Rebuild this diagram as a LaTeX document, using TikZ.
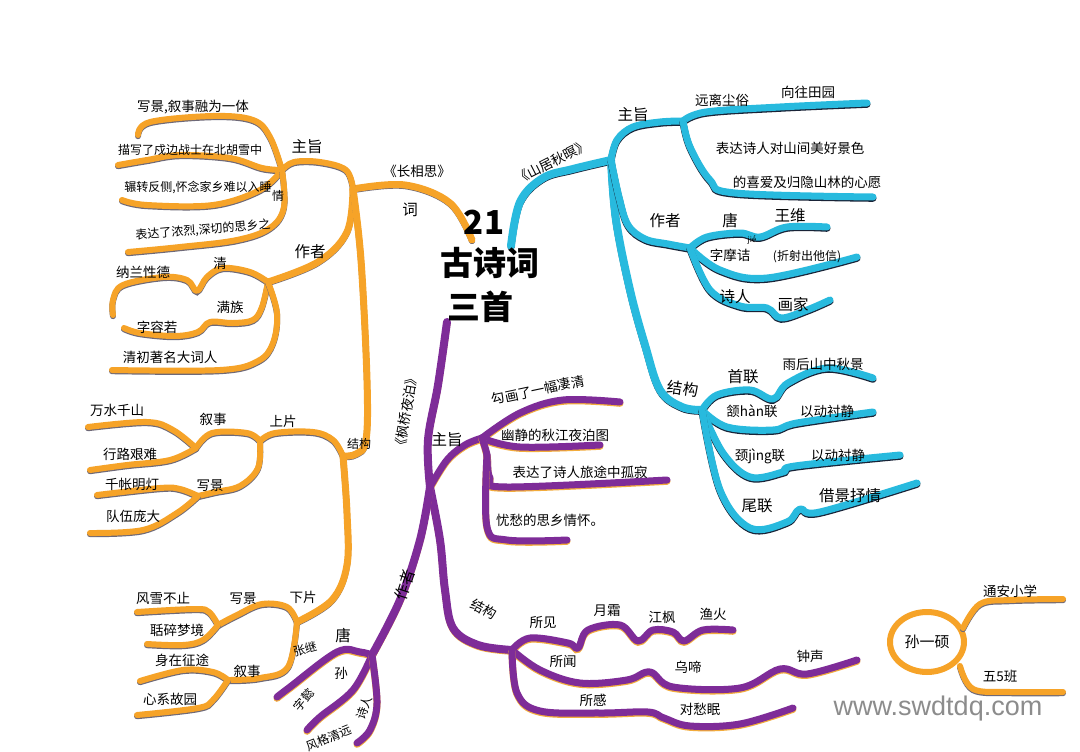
\documentclass[tikz,border=0pt]{standalone}
\usepackage{fontspec}
\setmainfont{Noto Sans CJK SC}
\newfontfamily\wmfont{Liberation Sans}
\usetikzlibrary{shapes.geometric}
\definecolor{orC}{RGB}{246,163,40}
\definecolor{orE}{RGB}{110,105,120}
\definecolor{blC}{RGB}{40,186,222}
\definecolor{blE}{RGB}{25,35,55}
\definecolor{puC}{RGB}{126,44,152}
\definecolor{puE}{RGB}{242,172,60}
\begin{document}
\begin{tikzpicture}[x=1pt,y=-1pt,
  obr/.style={draw=orC, line width=6pt, line cap=round, line join=round,
    preaction={draw=orE, line width=6pt, line cap=round, transform canvas={yshift=-1.2pt}}},
  omain/.style={obr, line width=7pt},
  bbr/.style={draw=blC, line width=7pt, line cap=round, line join=round,
    preaction={draw=blE, line width=7pt, line cap=round, transform canvas={yshift=-1.3pt}}},
  bmain/.style={bbr, line width=8pt},
  pbr/.style={draw=puC, line width=7pt, line cap=round, line join=round,
    preaction={draw=puE, line width=7pt, line cap=round, transform canvas={yshift=-1.3pt}}},
  pmain/.style={pbr, line width=8pt},
  sm/.style={smooth, tension=0.6},
  txt/.style={font=\fontsize{13.5}{15}\selectfont, inner sep=0pt, text=black},
  txs/.style={font=\fontsize{12}{14}\selectfont, inner sep=0pt, text=black},
  txl/.style={font=\fontsize{15.5}{17}\selectfont, inner sep=0pt, text=black},
  ttl/.style={font=\fontsize{33}{36}\selectfont\bfseries, inner sep=0pt, text=black},
]
\useasboundingbox (0,0) rectangle (1080,752);
\fill[white] (0,0) rectangle (1080,752);

% ================= ORANGE =================
\coordinate (oc) at (472,240);
\coordinate (oh) at (353,189);
\coordinate (ozh) at (282,170);
\coordinate (ozz) at (268,282);
\coordinate (ojg) at (343,456);
\coordinate (osp) at (260,441);
\coordinate (oxp) at (297,622);
\coordinate (oxs1) at (196,448);
\coordinate (oxj1) at (198,496);
\coordinate (oxj2) at (218,625);
\coordinate (oxs2) at (228,680);
\coordinate (o1) at (138,135);
\coordinate (o2) at (118,165);
\coordinate (o3) at (122,200);
\coordinate (o4) at (128,252);
\coordinate (o5) at (113,315);
\coordinate (o6) at (124,328);
\coordinate (o7) at (112,370);
\coordinate (o9) at (88,427);
\coordinate (o10) at (90,470);
\coordinate (o12) at (97,495);
\coordinate (o13) at (90,533);
\coordinate (o15) at (137,612);
\coordinate (o16) at (147,644);
\coordinate (o18) at (140,681);
\coordinate (o19) at (137,715);

\draw[omain] plot[sm] coordinates {(oc) (450,203) (405,185) (oh)};
\draw[obr] plot[sm] coordinates {(oh) (346,170) (320,162) (294,162) (ozh)};
\draw[obr] plot[sm] coordinates {(ozh) (270,137) (253,120) (213,116) (150,122) (o1)};
\draw[obr] plot[sm] coordinates {(ozh) (262,168) (230,158) (180,155) (147,160) (o2)};
\draw[obr] plot[sm] coordinates {(ozh) (260,190) (213,205) (147,205) (o3)};
\draw[obr] plot[sm] coordinates {(ozh) (284,207) (270,228) (237,240) (180,247) (o4)};
\draw[omain] plot[sm] coordinates {(oh) (347,232) (318,262) (ozz)};
\draw[obr] plot[sm] coordinates {(ozz) (250,272) (223,268) (207,277) (197,291) (187,280) (163,277) (123,285) (113,300) (o5)};
\draw[obr] plot[sm] coordinates {(ozz) (262,307) (253,320) (233,323) (210,322) (198,332) (175,336) (140,333) (o6)};
\draw[obr] plot[sm] coordinates {(ozz) (277,313) (273,343) (258,361) (220,370) (o7)};
\draw[omain] plot[sm] coordinates {(oh) (361,260) (367,380) (366,440) (356,454) (ojg)};
\draw[obr] plot[sm] coordinates {(ojg) (333,440) (313,432) (275,433) (osp)};
\draw[omain] plot[sm] coordinates {(ojg) (347,513) (347,565) (332,600) (oxp)};
\draw[obr] plot[sm] coordinates {(osp) (247,433) (212,433) (oxs1)};
\draw[obr] plot[sm] coordinates {(oxs1) (173,430) (147,422) (o9)};
\draw[obr] plot[sm] coordinates {(oxs1) (170,460) (127,465) (o10)};
\draw[obr] plot[sm] coordinates {(osp) (258,468) (240,486) (215,492) (oxj1)};
\draw[obr] plot[sm] coordinates {(oxj1) (180,489) (160,488) (o12)};
\draw[obr] plot[sm] coordinates {(oxj1) (177,513) (143,530) (o13)};
\draw[obr] plot[sm] coordinates {(oxp) (287,607) (262,604) (237,615) (oxj2)};
\draw[obr] plot[sm] coordinates {(oxj2) (209,612) (195,609) (o15)};
\draw[obr] plot[sm] coordinates {(oxj2) (203,640) (183,645) (o16)};
\draw[obr] plot[sm] coordinates {(oxp) (288,667) (260,678) (oxs2)};
\draw[obr] plot[sm] coordinates {(oxs2) (213,672) (183,670) (o18)};
\draw[obr] plot[sm] coordinates {(oxs2) (213,700) (198,708) (o19)};

% ================= BLUE =================
\coordinate (bc) at (511,246);
\coordinate (bh) at (611,160);
\coordinate (bzh) at (683,121);
\coordinate (bzz) at (690,248);
\coordinate (bjg) at (702,410);
\coordinate (b1) at (867,103);
\coordinate (b2) at (873,197);
\coordinate (b3) at (827,227);
\coordinate (b4) at (857,257);
\coordinate (b5) at (830,300);
\coordinate (b6) at (873,378);
\coordinate (b7) at (873,412);
\coordinate (b8) at (900,455);
\coordinate (b9) at (917,483);

\draw[bmain] plot[sm] coordinates {(bc) (520,202) (543,178) (573,169) (bh)};
\draw[bbr] plot[sm] coordinates {(bh) (617,140) (633,127) (660,122) (bzh)};
\draw[bbr] plot[sm] coordinates {(bzh) (706,112) (780,107) (b1)};
\draw[bbr] plot[sm] coordinates {(bzh) (690,147) (710,180) (735,193) (b2)};
\draw[bmain] plot[sm] coordinates {(bh) (616,220) (630,290) (645,345) (660,390) (682,407) (bjg)};
\draw[bbr] plot[sm] coordinates {(bh) (619,197) (628,225) (645,239) (668,244) (bzz)};
\draw[bbr] plot[sm] coordinates {(bzz) (707,237) (740,233) (760,237) (787,227) (b3)};
\draw[bbr] plot[sm] coordinates {(bzz) (720,270) (767,278) (b4)};
\draw[bbr] plot[sm] coordinates {(bzz) (710,290) (740,306) (767,308) (781,318) (807,310) (b5)};
\draw[bbr] plot[sm] coordinates {(bjg) (717,395) (750,390) (773,399) (788,383) (827,368) (b6)};
\draw[bbr] plot[sm] coordinates {(bjg) (727,427) (773,430) (797,423) (b7)};
\draw[bbr] plot[sm] coordinates {(bjg) (723,453) (750,477) (783,472) (795,466) (b8)};
\draw[bbr] plot[sm] coordinates {(bjg) (720,490) (750,528) (787,522) (800,509) (820,512) (b9)};

% ================= PURPLE =================
\coordinate (pc) at (447,322);
\coordinate (ph) at (430,487);
\coordinate (pzh) at (482,438);
\coordinate (pjg) at (512,650);
\coordinate (pzz) at (372,655);
\coordinate (p1) at (620,402);
\coordinate (p2) at (600,445);
\coordinate (pv) at (487,455);
\coordinate (p3) at (667,480);
\coordinate (p4) at (567,540);
\coordinate (p5) at (733,630);
\coordinate (p6) at (857,660);
\coordinate (p7) at (793,708);
\coordinate (p8) at (277,697);
\coordinate (p9) at (307,730);
\coordinate (p10) at (357,743);

\draw[pmain] plot[sm] coordinates {(pc) (438,385) (428,440) (ph)};
\draw[pbr] plot[sm] coordinates {(ph) (447,460) (465,445) (pzh)};
\draw[pbr] plot[sm] coordinates {(pzh) (520,413) (563,400) (p1)};
\draw[pbr] plot[sm] coordinates {(pzh) (520,447) (p2)};
\draw[pbr] plot[sm] coordinates {(pzh) (pv) (490,478) (507,487) (p3)};
\draw[pbr] plot[sm] coordinates {(pv) (487,527) (507,540) (p4)};
\draw[pmain] plot[sm] coordinates {(ph) (440,540) (445,590) (453,628) (478,645) (pjg)};
\draw[pbr] plot[sm] coordinates {(pjg) (530,638) (568,643) (578,648) (588,630) (620,625) (638,641) (653,630) (673,632) (684,641) (703,630) (p5)};
\draw[pbr] plot[sm] coordinates {(pjg) (540,670) (580,683) (627,680) (650,672) (673,687) (740,688) (780,669) (807,674) (p6)};
\draw[pbr] plot[sm] coordinates {(pjg) (517,693) (540,711) (600,713) (648,712) (664,718) (690,726) (740,724) (p7)};
\draw[pmain] plot[sm] coordinates {(ph) (420,540) (400,600) (pzz)};
\draw[pbr] plot[sm] coordinates {(pzz) (360,652) (337,652) (290,687) (p8)};
\draw[pbr] plot[sm] coordinates {(pzz) (353,690) (320,717) (p9)};
\draw[pbr] plot[sm] coordinates {(pzz) (377,703) (370,730) (p10)};

% ================= NAME =================
\node[ellipse, draw=orC, line width=6pt, minimum width=74pt, minimum height=60pt, inner sep=0pt, font=\fontsize{15}{17}\selectfont] (nm) at (927,642) {孙一硕};
\coordinate (nA) at (963,628);
\coordinate (nB) at (960,666);
\coordinate (n1) at (1063,599);
\coordinate (n2) at (1063,692);
\draw[obr] plot[sm] coordinates {(nA) (980,604) (1010,600) (n1)};
\draw[obr] plot[sm] coordinates {(nB) (973,689) (1010,692) (n2)};

% ================= TITLE =================
\node[ttl] (t21) at (484,222) {21};
\node[ttl] (tgs) at (490,263) {古诗词};
\node[ttl] (tss) at (480,307) {三首};

% ================= ORANGE TEXT =================
\node[txt] (tcx) at (417,171) {《长相思》};
\node[txl] (tci) at (410,210) {词};
\node[txl] (tzz1) at (307,147) {主旨};
\node[txt] (ta1) at (193,107) {写景,叙事融为一体};
\node[txs] (ta2) at (190,150) {描写了戍边战士在北胡雪中};
\node[txs] (ta3) at (198,187) {辗转反侧,怀念家乡难以入睡};
\node[txs] (ta4q) at (278,196) {情};
\node[txs, rotate=5] (ta4) at (203,230) {表达了浓烈,深切的思乡之};
\node[txl] (tzr1) at (310,252) {作者};
\node[txt] (tq) at (220,263) {清};
\node[txt] (tnl) at (143,272) {纳兰性德};
\node[txt] (tmz) at (230,307) {满族};
\node[txt] (trr) at (157,327) {字容若};
\node[txt] (tqc) at (170,357) {清初著名大词人};
\node[txs] (tjg1) at (359,444) {结构};
\node[txt] (tsp) at (283,421) {上片};
\node[txt] (txs1) at (213,419) {叙事};
\node[txt] (tws) at (117,410) {万水千山};
\node[txt] (txl) at (130,454) {行路艰难};
\node[txt] (tqz) at (132,484) {千帐明灯};
\node[txt] (txj1) at (210,486) {写景};
\node[txt] (tdw) at (133,516) {队伍庞大};
\node[txt] (txp) at (303,597) {下片};
\node[txt] (txj2) at (243,599) {写景};
\node[txt] (tfx) at (163,598) {风雪不止};
\node[txt] (tgs2) at (177,630) {聒碎梦境};
\node[txt] (tsz) at (182,660) {身在征途};
\node[txt] (txs2) at (247,671) {叙事};
\node[txt] (txg) at (170,699) {心系故园};

% ================= BLUE TEXT =================
\node[txt, rotate=27] (tsj) at (552,162) {《山居秋暝》};
\node[txl] (tzz2) at (633,115) {主旨};
\node[txt] (tyl) at (722,100) {远离尘俗};
\node[txt] (txw) at (808,92) {向往田园};
\node[txt] (tbd) at (790,148) {表达诗人对山间美好景色};
\node[txt] (tdx) at (807,182) {的喜爱及归隐山林的心愿};
\node[txl] (tzr2) at (665,221) {作者};
\node[txl] (tt1) at (730,221) {唐};
\node[txl] (tww) at (790,216) {王维};
\node[txt] (tzm) at (730,255) {字摩诘};
\node[font=\fontsize{8}{9}\selectfont, inner sep=0pt] (tjie) at (752,240) {jié};
\node[txs] (tzs) at (807,257) {(折射出他信)};
\node[txl] (tsr1) at (735,297) {诗人};
\node[txl] (thj) at (793,305) {画家};
\node[txl, rotate=-8] (tjg2) at (683,389) {结构};
\node[txl] (tsl) at (743,377) {首联};
\node[txt] (tyh) at (823,364) {雨后山中秋景};
\node[txt] (thl) at (752,411) {颔hàn联};
\node[txt] (tyd1) at (827,411) {以动衬静};
\node[txt] (tjl) at (760,456) {颈jìng联};
\node[txt] (tyd2) at (838,455) {以动衬静};
\node[txl] (twl) at (757,506) {尾联};
\node[txl] (tjj) at (850,496) {借景抒情};

% ================= PURPLE TEXT =================
\node[txt, rotate=80] (tfq) at (406,412) {《枫桥夜泊》};
\node[txl] (tzz3) at (447,440) {主旨};
\node[txt, rotate=12] (tgh) at (538,390) {勾画了一幅凄清};
\node[txt] (tyj) at (555,435) {幽静的秋江夜泊图};
\node[txt] (tbl) at (580,472) {表达了诗人旅途中孤寂};
\node[txt] (tyc) at (550,520) {忧愁的思乡情怀。};
\node[txl, rotate=72] (tzr3) at (405,585) {作者};
\node[txl] (tt2) at (343,636) {唐};
\node[txs, rotate=15] (tzj) at (305,649) {张继};
\node[txt] (tsun) at (341,673) {孙};
\node[txs, rotate=50] (tzy) at (304,700) {字懿};
\node[txs, rotate=70] (tsr2) at (364,708) {诗人};
\node[txs, rotate=22] (tfg) at (329,738) {风格清远};
\node[txt, rotate=-28] (tjg3) at (484,609) {结构};
\node[txt] (tsjn) at (543,622) {所见};
\node[txt] (tys) at (607,611) {月霜};
\node[txt] (tjf) at (662,617) {江枫};
\node[txt] (tyh2) at (713,614) {渔火};
\node[txt] (tsw) at (563,661) {所闻};
\node[txt] (twt) at (688,667) {乌啼};
\node[txt] (tzs2) at (810,656) {钟声};
\node[txt] (tsg) at (593,700) {所感};
\node[txt] (tdc) at (700,709) {对愁眠};

% ================= NAME TEXT =================
\node[txt] (tta) at (1010,591) {通安小学};
\node[txt] (tw5) at (1000,676) {五5班};
\node[font=\wmfont\fontsize{27}{30}\selectfont, text=black!45, inner sep=0pt] (twm) at (938,709) {www.swdtdq.com};
\end{tikzpicture}
\end{document}
